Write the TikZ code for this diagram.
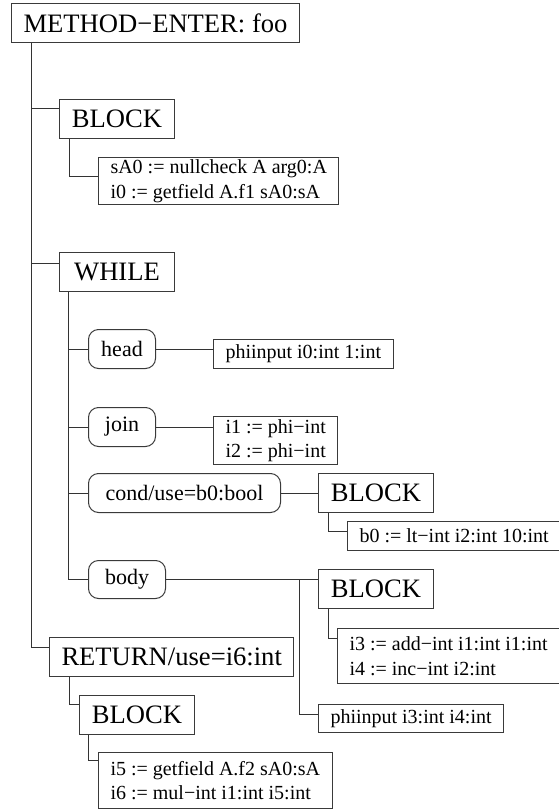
\documentclass[tikz,border=0pt]{standalone}
\usepackage{fontspec}
\setmainfont{Liberation Serif}
\usetikzlibrary{positioning}
\definecolor{boxborder}{HTML}{3A3A3A}
\definecolor{treeline}{HTML}{333333}
\newcommand{\bigtext}{\fontsize{26.6}{32}\selectfont}
\newcommand{\midtext}{\fontsize{22}{26}\selectfont}
\newcommand{\smalltext}{\fontsize{20}{24.5}\selectfont}
\tikzset{
  base/.style={rectangle, anchor=north west, draw=boxborder, line width=1pt, inner ysep=0pt},
  stmt/.style={base, font=\bigtext, inner xsep=12pt, minimum height=39pt, minimum width=115pt},
  region/.style={base, rounded corners=10pt, font=\midtext, inner xsep=10pt, minimum height=39pt, minimum width=67pt},
  code/.style={base, font=\smalltext, align=left, inner xsep=12pt, minimum height=29pt},
  link/.style={draw=treeline, line width=1pt}
}

\begin{document}
\begin{tikzpicture}[x=1pt, y=-1pt]
\useasboundingbox (0,0) rectangle (558,809);

\node[stmt] (method) at (11,3) {METHOD−ENTER: foo};

\node[stmt] (block1) at (59,99) {BLOCK};
\node[code, minimum height=47pt] (code1) at (98,157) {sA0 := nullcheck A arg0:A\\i0 := getfield A.f1 sA0:sA};

\node[stmt] (while) at (59,252) {WHILE};
\node[region] (head) at (88,329) {head};
\node[code] (phi1) at (213,339) {phiinput i0:int 1:int};
\node[region] (join) at (88,407) {join};
\node[code, minimum height=48pt] (code2) at (213,416) {i1 := phi−int\\i2 := phi−int};
\node[region, minimum width=192pt] (cond) at (88,473) {cond/use=b0:bool};
\node[stmt] (block2) at (318,473) {BLOCK};
\node[code] (code3) at (347,521) {b0 := lt−int i2:int 10:int};
\node[region, minimum width=77pt, minimum height=38pt] (body) at (88,560) {body};
\node[stmt] (block3) at (318,569) {BLOCK};
\node[code, minimum height=55pt] (code4) at (337,628) {i3 := add−int i1:int i1:int\\i4 := inc−int i2:int};
\node[code, minimum height=28pt] (phi2) at (318,704) {phiinput i3:int i4:int};

\node[stmt] (ret) at (49,637) {RETURN/use=i6:int};
\node[stmt] (block4) at (79,695) {BLOCK};
\node[code, minimum height=56pt] (code5) at (98,752) {i5 := getfield A.f2 sA0:sA\\i6 := mul−int i1:int i5:int};

% method spine
\coordinate (mspine) at ([xshift=20pt]method.south west);
\draw[link] (mspine) |- ([yshift=-9pt]block1.north west);
\draw[link] (mspine) |- ([yshift=-11pt]while.north west);
\draw[link] (mspine) |- ([yshift=-10pt]ret.north west);
\draw[link] ([xshift=10pt]block1.south west) |- ([yshift=-19pt]code1.north west);

% loop parts
\coordinate (wspine) at ([xshift=9pt]while.south west);
\draw[link] (wspine) |- (head.west);
\draw[link] (wspine) |- (join.west);
\draw[link] (wspine) |- (cond.west);
\draw[link] (wspine) |- (body.west);
\draw[link] (head.east) -- (head.east -| phi1.west);
\draw[link] (join.east) -- (join.east -| code2.west);
\draw[link] (cond.east) -- (cond.east -| block2.west);
\draw[link] ([xshift=10pt]block2.south west) |- ([yshift=-10pt]code3.north west);
\draw[link] (body.east) -- (body.east -| block3.west);
\path (body.east -| block3.west) ++(-19,0) coordinate (fork);
\draw[link] (fork) |- ([yshift=-10pt]phi2.north west);
\draw[link] ([xshift=10pt]block3.south west) |- ([yshift=-10pt]code4.north west);

% return
\draw[link] ([xshift=20pt]ret.south west) |- ([yshift=-9pt]block4.north west);
\draw[link] ([xshift=9pt]block4.south west) |- ([yshift=-8pt]code5.north west);

\end{tikzpicture}
\end{document}
